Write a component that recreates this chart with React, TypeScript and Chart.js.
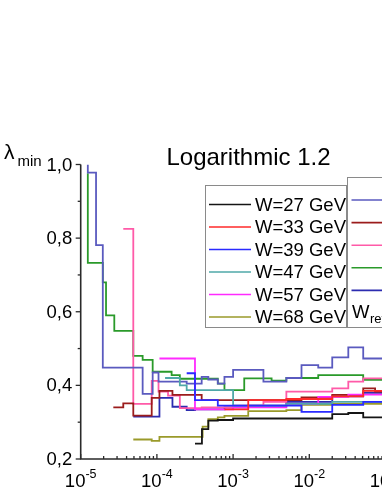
import React, { useEffect, useRef } from 'react';
import { Chart, registerables } from 'chart.js';

Chart.register(...registerables);

// ---- data (x = fraction, y = lambda_min), step lines ----
const W27_X = [3.16e-4, 3.9e-4, 4.73e-4, 6.3e-4, 1.0e-3, 2.0e-2, 3.25e-2, 5.1e-2, 1.26e-1];
const W27_Y = [0.242, 0.281, 0.304, 0.306, 0.31, 0.322, 0.325, 0.313, 0.313];

const W33_X = [7.7e-4, 1.58e-3, 5.0e-3, 2.0e-2, 5.1e-2, 1.26e-1];
const W33_Y = [0.335, 0.36, 0.363, 0.37, 0.385, 0.385];

const W39_X = [2.46e-4, 3.16e-4, 6.3e-4, 1.58e-3, 7.9e-3, 2.0e-2, 5.1e-2, 1.26e-1];
const W39_Y = [0.433, 0.36, 0.345, 0.345, 0.328, 0.347, 0.355, 0.37];

const W47_X = [1.28e-4, 2.0e-4, 2.46e-4, 7.7e-4, 1.0e-3, 5.0e-3, 2.0e-2, 1.26e-1];
const W47_Y = [0.42, 0.4, 0.387, 0.387, 0.345, 0.35, 0.355, 0.36];

const W57_X = [1.08e-4, 3.16e-4, 1.0e-3, 5.0e-3, 1.31e-2, 3.25e-2, 1.26e-1];
const W57_Y = [0.473, 0.335, 0.34, 0.35, 0.369, 0.375, 0.375];

const W68_X = [4.9e-5, 8.55e-5, 1.08e-4, 3.98e-4, 4.73e-4, 6.3e-4, 7.7e-4, 1.58e-3, 5.0e-3, 7.9e-3, 2.0e-2, 1.26e-1];
const W68_Y = [0.253, 0.249, 0.26, 0.288, 0.308, 0.313, 0.317, 0.33, 0.333, 0.347, 0.35, 0.36];

const R1_X = [1.24e-5, 1.24e-5, 1.59e-5, 1.95e-5, 6.5e-5, 8.8e-5, 1.05e-4, 2.46e-4, 3.87e-4, 4.73e-4, 6.3e-4, 7.7e-4, 1.0e-3, 2.5e-3, 5.0e-3, 7.9e-3, 1.31e-2, 2.0e-2, 3.25e-2, 5.1e-2, 1.26e-1];
const R1_Y = [1.0, 0.978, 0.781, 0.448, 0.377, 0.435, 0.41, 0.405, 0.423, 0.416, 0.405, 0.423, 0.442, 0.41, 0.42, 0.455, 0.448, 0.476, 0.503, 0.473, 0.473];

const R2_X = [2.68e-5, 3.62e-5, 4.9e-5, 8.55e-5, 1.08e-4, 1.6e-4, 3.87e-4, 1.0e-3, 7.9e-3, 2.0e-2, 5.1e-2, 7.3e-2, 1.26e-1];
const R2_Y = [0.34, 0.351, 0.318, 0.366, 0.385, 0.374, 0.36, 0.36, 0.367, 0.374, 0.392, 0.383, 0.383];

const R3_X = [3.62e-5, 4.9e-5, 8.55e-5, 1.05e-4, 1.4e-4, 2.0e-4, 3.87e-4, 1.0e-3, 2.5e-3, 5.0e-3, 2.0e-2, 3.25e-2, 5.1e-2, 1.26e-1];
const R3_Y = [0.825, 0.35, 0.412, 0.383, 0.372, 0.338, 0.34, 0.345, 0.355, 0.383, 0.392, 0.41, 0.419, 0.419];

const R4_X = [1.24e-5, 1.24e-5, 1.95e-5, 2.15e-5, 2.76e-5, 4.9e-5, 6.5e-5, 8.8e-5, 1.56e-4, 2.0e-4, 6.3e-4, 7.7e-4, 1.4e-3, 3.2e-3, 5.0e-3, 1.31e-2, 5.1e-2, 1.26e-1];
const R4_Y = [0.976, 0.733, 0.68, 0.59, 0.548, 0.48, 0.469, 0.437, 0.428, 0.418, 0.405, 0.387, 0.419, 0.413, 0.42, 0.428, 0.415, 0.415];

const R5_X = [4.9e-5, 1.08e-4, 1.6e-4, 2.46e-4, 3.16e-4, 7.7e-4, 1.58e-3, 5.0e-3, 2.0e-2, 5.1e-2, 1.26e-1];
const R5_Y = [0.315, 0.366, 0.342, 0.333, 0.335, 0.34, 0.345, 0.355, 0.37, 0.38, 0.38];

const LEGEND1_LABELS = ['W=27 GeV', 'W=33 GeV', 'W=39 GeV', 'W=47 GeV', 'W=57 GeV', 'W=68 GeV'];
const LEGEND2_LABELS = ['W=82 GeV', 'W=100 GeV', 'W=120 GeV', 'W=145 GeV', 'W=175 GeV'];
const COLORS1 = ['#151515', '#ff2a2a', '#2a2aff', '#4fa8a8', '#ff2aff', '#9a9a2a'];
const COLORS2 = ['#5a5abf', '#9b1c1c', '#ff5aa8', '#2a9a2a', '#2c2cb0'];
const Y_TICKS = [0.2, 0.3, 0.4, 0.5, 0.6, 0.7, 0.8, 0.9, 1.0];
const X_DECADES = [-5, -4, -3, -2, -1, 0];
const TITLE = 'Logarithmic 1.2';

const SERIES_X = [W27_X, W33_X, W39_X, W47_X, W57_X, W68_X, R1_X, R2_X, R3_X, R4_X, R5_X];
const SERIES_Y = [W27_Y, W33_Y, W39_Y, W47_Y, W57_Y, W68_Y, R1_Y, R2_Y, R3_Y, R4_Y, R5_Y];

const FONT = 'Arial, "Liberation Sans", Helvetica, sans-serif';

const decor = {
  id: 'decor',
  afterDraw(chart: any) {
    const ctx = chart.ctx as CanvasRenderingContext2D;
    const xs = chart.scales.x;
    const ys = chart.scales.y;
    const area = chart.chartArea;
    ctx.save();
    // axes lines
    ctx.strokeStyle = '#2a2a2a';
    ctx.lineWidth = 1.6;
    ctx.beginPath();
    ctx.moveTo(area.left, area.top);
    ctx.lineTo(area.left, area.bottom);
    ctx.lineTo(area.right, area.bottom);
    ctx.stroke();
    // y ticks
    ctx.lineWidth = 1.3;
    Y_TICKS.forEach((v, i) => {
      const py = ys.getPixelForValue(v);
      const major = i % 2 === 0;
      ctx.beginPath();
      ctx.moveTo(area.left - (major ? 5 : 3), py);
      ctx.lineTo(area.left, py);
      ctx.stroke();
    });
    // x ticks (inside)
    X_DECADES.forEach((e) => {
      for (let k = 1; k <= 9; k++) {
        const v = k * Math.pow(10, e);
        const px = xs.getPixelForValue(v);
        if (px < area.left - 0.5 || px > area.right + 0.5) continue;
        ctx.beginPath();
        ctx.moveTo(px, area.bottom);
        ctx.lineTo(px, area.bottom - (k === 1 ? 5 : 3));
        ctx.stroke();
      }
    });
    // y labels
    ctx.fillStyle = '#000';
    ctx.font = `18.5px ${FONT}`;
    ctx.textAlign = 'right';
    ctx.textBaseline = 'middle';
    Y_TICKS.forEach((v, i) => {
      if (i % 2 !== 0) return;
      ctx.fillText(v.toFixed(1).replace('.', ','), area.left - 8.5, ys.getPixelForValue(v) + 1);
    });
    // x labels with superscript
    ctx.textBaseline = 'alphabetic';
    ctx.textAlign = 'left';
    X_DECADES.forEach((e) => {
      const px = xs.getPixelForValue(Math.pow(10, e));
      const base = '10';
      const sup = String(e);
      ctx.font = `18.5px ${FONT}`;
      const wb = ctx.measureText(base).width;
      ctx.font = `12.5px ${FONT}`;
      const ws = e === 0 ? 0 : ctx.measureText(sup).width;
      const start = px - (wb + ws) / 2;
      ctx.font = `18.5px ${FONT}`;
      ctx.fillText(base, start, area.bottom + 27.5);
      if (e !== 0) {
        ctx.font = `12.5px ${FONT}`;
        ctx.fillText(sup, start + wb, area.bottom + 19);
      }
    });
    // y axis title
    ctx.font = `21px ${FONT}`;
    ctx.fillText('λ', 4, 159);
    ctx.font = `15px ${FONT}`;
    ctx.fillText('min', 17.5, 166);
    // title
    ctx.font = `24px ${FONT}`;
    ctx.textAlign = 'center';
    ctx.fillText(TITLE, 248.5, 165);

    const ds = chart.data.datasets;
    const drawBox = (x0: number, y0: number, x1: number, y1: number) => {
      ctx.fillStyle = '#fff';
      ctx.fillRect(x0, y0, x1 - x0, y1 - y0);
      ctx.strokeStyle = '#8a8a8a';
      ctx.lineWidth = 1;
      ctx.strokeRect(x0 + 0.5, y0 + 0.5, x1 - x0, y1 - y0);
    };
    // legend 2 (behind, right)
    drawBox(347, 177, 470, 327);
    LEGEND2_LABELS.forEach((lab, i) => {
      const y = 200 + i * 22.6;
      ctx.strokeStyle = ds[6 + i].borderColor;
      ctx.lineWidth = 1.6;
      ctx.beginPath();
      ctx.moveTo(351.5, y);
      ctx.lineTo(393, y);
      ctx.stroke();
      ctx.fillStyle = '#000';
      ctx.font = `18.5px ${FONT}`;
      ctx.textAlign = 'left';
      ctx.textBaseline = 'middle';
      ctx.fillText(lab, 398, y);
    });
    ctx.fillStyle = '#000';
    ctx.textBaseline = 'alphabetic';
    ctx.font = `18.5px ${FONT}`;
    ctx.fillText('W', 352, 318);
    ctx.font = `13px ${FONT}`;
    ctx.fillText('ref', 370, 323);
    // legend 1
    drawBox(205, 185, 346, 327);
    LEGEND1_LABELS.forEach((lab, i) => {
      const y = 204.5 + i * 22.5;
      ctx.strokeStyle = ds[i].borderColor;
      ctx.lineWidth = 1.6;
      ctx.beginPath();
      ctx.moveTo(209, y);
      ctx.lineTo(251, y);
      ctx.stroke();
      ctx.fillStyle = '#000';
      ctx.font = `18.5px ${FONT}`;
      ctx.textAlign = 'left';
      ctx.textBaseline = 'middle';
      ctx.fillText(lab, 255, y + 1);
    });
    ctx.restore();
  },
};

export default function App() {
  const ref = useRef<HTMLCanvasElement | null>(null);
  useEffect(() => {
    if (!ref.current) return;
    const colors = [...COLORS1, ...COLORS2];
    const labels = [...LEGEND1_LABELS, ...LEGEND2_LABELS];
    const chart = new Chart(ref.current, {
      type: 'line',
      data: {
        datasets: SERIES_X.map((xsArr, i) => ({
          label: labels[i],
          data: xsArr.map((x, j) => ({ x, y: SERIES_Y[i][j] })),
          borderColor: colors[i],
          borderWidth: 1.8,
          stepped: 'before' as const,
          pointRadius: 0,
          fill: false,
        })),
      },
      options: {
        animation: false,
        responsive: false,
        devicePixelRatio: 1,
        layout: { padding: { left: 80.7, top: 164.5, bottom: 35, right: 18.3 } },
        plugins: { legend: { display: false }, tooltip: { enabled: false }, title: { display: false } },
        scales: {
          x: { type: 'logarithmic', min: 1e-5, max: 1, display: false },
          y: { type: 'linear', min: 0.2, max: 1.0, display: false },
        },
      },
      plugins: [decor],
    });
    return () => chart.destroy();
  }, []);
  return (
    <div style={{ position: 'fixed', left: 0, top: 0, width: 382, height: 494, overflow: 'hidden', background: '#fff' }}>
      <canvas ref={ref} width={480} height={494} style={{ display: 'block', width: 480, height: 494 }} />
    </div>
  );
}
